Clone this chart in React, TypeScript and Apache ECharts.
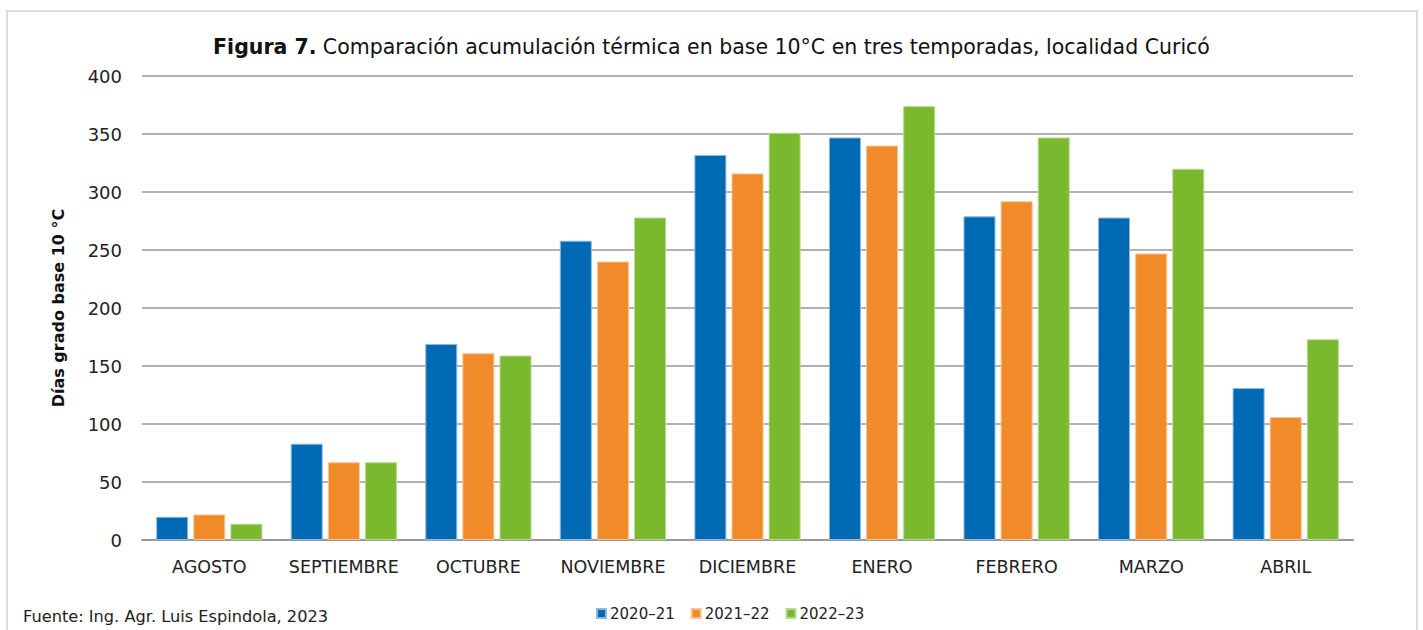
import React, { useEffect, useRef } from "react";
import * as echarts from "echarts";

const months = ["AGOSTO", "SEPTIEMBRE", "OCTUBRE", "NOVIEMBRE", "DICIEMBRE", "ENERO", "FEBRERO", "MARZO", "ABRIL"];
const season2020 = [20, 83, 169, 258, 332, 347, 279, 278, 131];
const season2021 = [22, 67, 161, 240, 316, 340, 292, 247, 106];
const season2022 = [14, 67, 159, 278, 351, 374, 347, 320, 173];
const seasonNames = ["2020–21", "2021–22", "2022–23"];
const yTicks = [0, 50, 100, 150, 200, 250, 300, 350, 400];

const FONT = "DejaVu Sans";

export default function App() {
  const ref = useRef<HTMLDivElement>(null);
  useEffect(() => {
    if (!ref.current) return;
    const chart = echarts.init(ref.current, undefined, { renderer: "svg" });
    const colors = ["#0069B4", "#F18A28", "#7AB92E"];
    const borders = ["#8db8de", "#f7c293", "#b7d990"];
    const data = [season2020, season2021, season2022];
    chart.setOption({
      animation: false,
      backgroundColor: "#ffffff",
      textStyle: { fontFamily: FONT },
      title: {
        left: "center",
        top: 31,
        text: "{b|Figura 7.} {r|Comparación acumulación térmica en base 10°C en tres temporadas, localidad Curicó}",
        textStyle: {
          rich: {
            b: { fontFamily: FONT, fontSize: 20.5, fontWeight: "bold", color: "#111" },
            r: { fontFamily: FONT, fontSize: 20.5, fontWeight: "normal", color: "#111" },
          },
        },
      },
      graphic: [
        {
          type: "rect",
          shape: { x: 7, y: 11, width: 1410, height: 660 },
          style: { fill: "none", stroke: "#dddddd", lineWidth: 2 },
          silent: true,
        },
        {
          type: "text",
          left: 23,
          top: 608,
          style: { text: "Fuente: Ing. Agr. Luis Espindola, 2023", fontFamily: FONT, fontSize: 16.2, fill: "#222" },
        },
      ],
      legend: {
        left: 591,
        top: 601,
        itemWidth: 9,
        itemHeight: 9,
        itemGap: 16,
        icon: "rect",
        textStyle: { fontFamily: FONT, fontSize: 15, color: "#222", padding: [0, 0, 0, -1] },
        data: seasonNames,
      },
      grid: { left: 142, right: 70, top: 76, bottom: 90 },
      xAxis: {
        type: "category",
        data: months,
        axisLine: { lineStyle: { color: "#999", width: 2 } },
        axisTick: { show: false },
        axisLabel: { fontFamily: FONT, fontSize: 17.5, color: "#222", margin: 18, interval: 0, hideOverlap: false },
      },
      yAxis: {
        type: "value",
        min: yTicks[0],
        max: yTicks[yTicks.length - 1],
        interval: 50,
        name: "Días grado base 10 °C",
        nameLocation: "middle",
        nameGap: 76,
        nameTextStyle: { fontFamily: FONT, fontSize: 16, fontWeight: "bold", color: "#111" },
        axisLine: { show: false },
        axisTick: { show: false },
        axisLabel: { fontFamily: FONT, fontSize: 18, color: "#222", margin: 20 },
        splitLine: { lineStyle: { color: "#999", width: 1.5 } },
      },
      series: data.map((d, i) => ({
        type: "bar",
        name: seasonNames[i],
        data: d,
        barWidth: 32,
        barGap: "16%",
        itemStyle: { color: colors[i], borderColor: borders[i], borderWidth: 1 },
      })),
    });
    return () => chart.dispose();
  }, []);
  return <div ref={ref} style={{ position: "fixed", left: 0, top: 0, width: 1423, height: 630 }} />;
}
